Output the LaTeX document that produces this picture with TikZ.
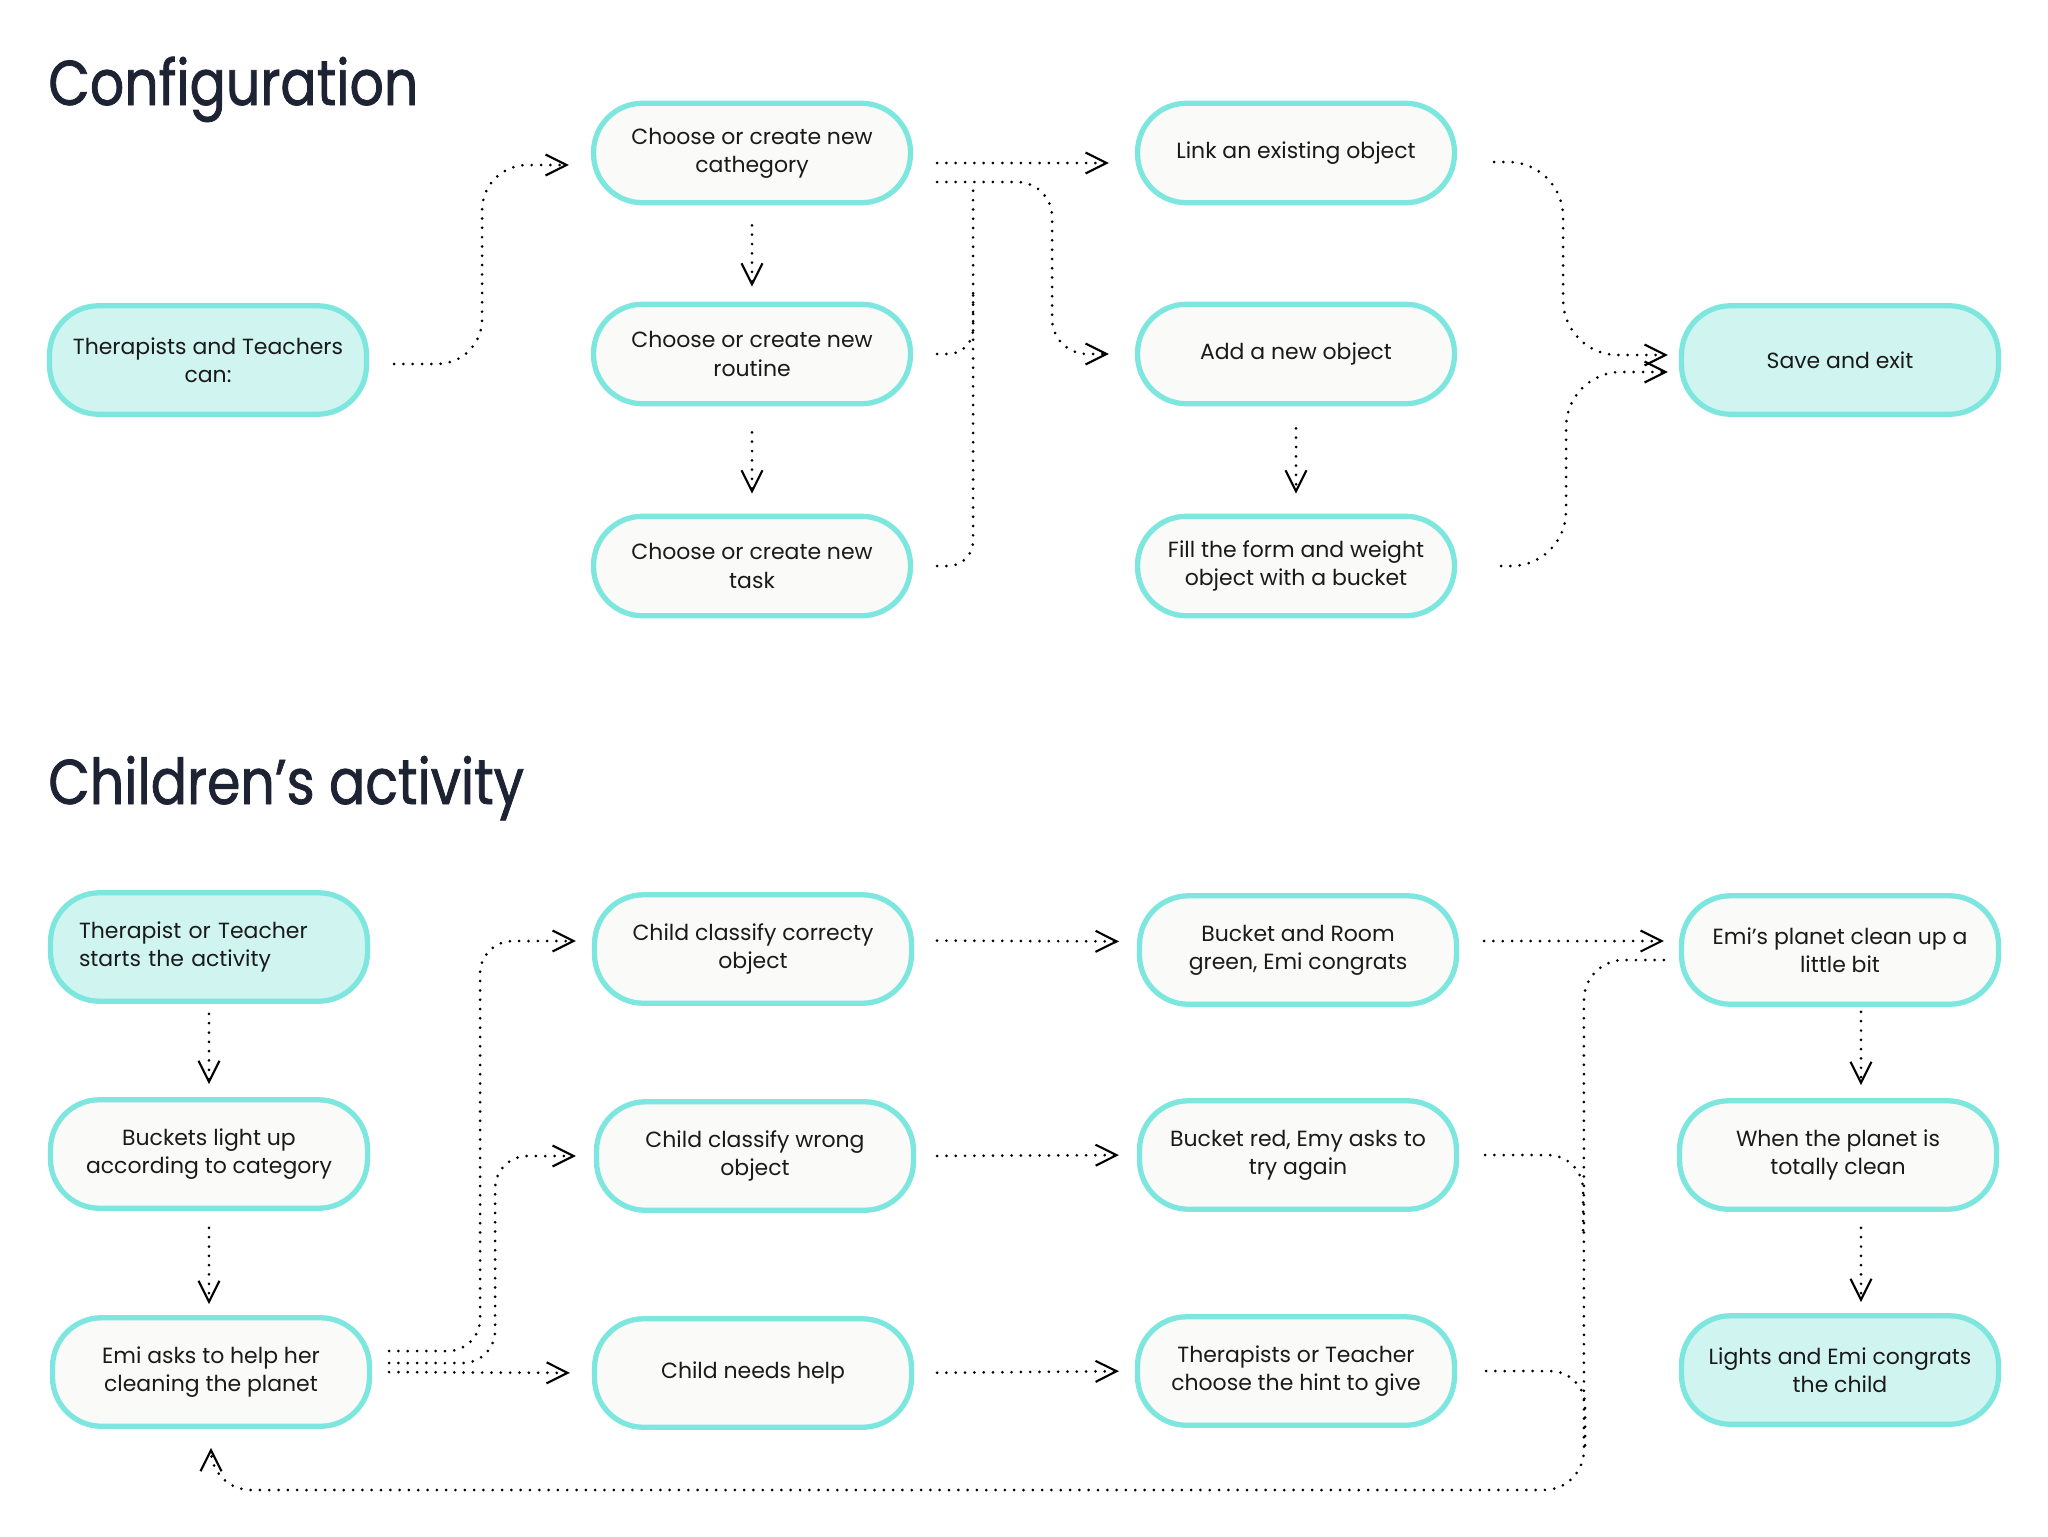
\documentclass[tikz,border=0pt]{standalone}
\usepackage{fontspec}
\setmainfont{Poppins}
\newfontfamily\titlefont{Poppins}[FakeStretch=0.85,FakeBold=1.2]
\usetikzlibrary{arrows.meta}

\definecolor{boxline}{RGB}{125,230,222}
\definecolor{boxfill}{RGB}{250,250,248}
\definecolor{keyfill}{RGB}{208,245,241}
\definecolor{titleink}{RGB}{29,35,51}
\definecolor{textink}{RGB}{26,26,26}

\begin{document}
\begin{tikzpicture}[x=0.02cm,y=-0.02cm,
  box/.style={draw=boxline,fill=boxfill,line width=3pt,rounded corners=0.98cm,
    minimum width=6.34cm,minimum height=2.17cm,inner sep=0pt,align=center,
    text=textink,font=\fontsize{12.5}{16}\selectfont},
  keybox/.style={box,fill=keyfill},
  title/.style={inner sep=0pt,anchor=base west,text=titleink,
    font=\titlefont\fontsize{36}{40}\selectfont},
  dots/.style={line width=1.7pt,line cap=round,dash pattern=on 0pt off 5.3pt},
  flow/.style={dots,-{Straight Barb[length=0.42cm,width=0.42cm,line width=1.2pt]}}]

\fill[white] (0,0) rectangle (2048,1536) ;
\useasboundingbox (0,0) rectangle (2048,1536) ;

\node[title] (t_config) at (48,105) {Configuration} ;
\node[title] (t_activity) at (48,804) {Children’s activity} ;

\node[keybox] (cfg_team) at (208,360) {Therapists and Teachers\\can:} ;
\node[keybox] (cfg_save) at (1840,360) {Save and exit} ;

\begin{scope}[box/.append style={minimum height=1.99cm}]

\node[box] (cfg_cat) at (752,153) {Choose or create new\\cathegory} ;
\node[box] (cfg_routine) at (752,354) {Choose or create new\\routine} ;
\node[box] (cfg_task) at (752,566) {Choose or create new\\task} ;

\node[box] (cfg_link) at (1296,153) {Link an existing object} ;
\node[box] (cfg_add) at (1296,354) {Add a new object} ;
\node[box] (cfg_form) at (1296,566) {Fill the form and weight\\object with a bucket} ;

\end{scope}

\draw[flow,shorten <=0.5cm,shorten >=0.44cm,rounded corners=0.9cm] ([yshift=-0.08cm]cfg_team.east) -- ++(113,0) |- ([yshift=-0.24cm]cfg_cat.west) ;
\draw[flow,shorten <=0.4cm,shorten >=0.3cm] (cfg_cat.south) -- (cfg_routine.north) ;
\draw[flow,shorten <=0.52cm,shorten >=0.4cm] (cfg_routine.south) -- (cfg_task.north) ;

\draw[flow,shorten <=0.48cm,shorten >=0.52cm] ([yshift=-0.2cm]cfg_cat.east) -- ([yshift=-0.2cm]cfg_link.west) ;
\draw[flow,shorten <=0.48cm,shorten >=0.52cm,rounded corners=0.7cm] ([yshift=-0.58cm]cfg_cat.east) -- ++(139,0) |- (cfg_add.west) ;
\draw[dots,shorten <=0.48cm,rounded corners=0.5cm] (cfg_routine.east) -- ++(60,0) -- ++(0,-60) ;
\draw[dots,shorten <=0.48cm,rounded corners=0.5cm] (cfg_task.east) -- ++(60,0) -- ++(0,-384) ;
\draw[flow,shorten <=0.44cm,shorten >=0.4cm] (cfg_add.south) -- (cfg_form.north) ;

\draw[flow,shorten <=0.74cm,shorten >=0.22cm,rounded corners=1.1cm] ([yshift=-0.18cm]cfg_link.east) -- ++(106,0) |- ([yshift=0.1cm]cfg_save.west) ;
\draw[flow,shorten <=0.88cm,shorten >=0.22cm,rounded corners=1.1cm] (cfg_form.east) -- ++(109,0) |- ([yshift=-0.24cm]cfg_save.west) ;

\node[keybox,align=left,text width=5.2cm] (act_start) at (209,947) {Therapist or Teacher\\starts the activity} ;
\node[box] (act_light) at (209,1154) {Buckets light up\\according to category} ;
\node[box] (act_emi) at (211,1372) {Emi asks to help her\\cleaning the planet} ;

\node[box] (act_right) at (753,949) {Child classify correcty\\object} ;
\node[box] (act_wrong) at (755,1156) {Child classify wrong\\object} ;
\node[box] (act_help) at (753,1373) {Child needs help} ;

\node[box] (act_green) at (1298,950) {Bucket and Room\\green, Emi congrats} ;
\node[box] (act_red) at (1298,1155) {Bucket red, Emy asks to\\try again} ;
\node[box] (act_hint) at (1296,1371) {Therapists or Teacher\\choose the hint to give} ;

\node[box] (act_planet) at (1840,950) {Emi’s planet clean up a\\little bit} ;
\node[box] (act_clean) at (1838,1155) {When the planet is\\totally clean} ;
\node[keybox] (act_end) at (1840,1370) {Lights and Emi congrats\\the child} ;

\draw[flow,shorten <=0.2cm,shorten >=0.26cm] (act_start.south) -- (act_start.south |- act_light.north) ;
\draw[flow,shorten <=0.34cm,shorten >=0.22cm] (act_light.south) -- (act_light.south |- act_emi.north) ;

\draw[flow,shorten <=0.34cm,shorten >=0.32cm,rounded corners=0.65cm] ([yshift=0.42cm]act_emi.east) -- ++(108,0) |- ([yshift=0.16cm]act_right.west) ;
\draw[flow,shorten <=0.34cm,shorten >=0.36cm,rounded corners=0.65cm] ([yshift=0.18cm]act_emi.east) -- ++(123,0) |- (act_wrong.west) ;
\draw[flow,shorten <=0.34cm,shorten >=0.44cm] (act_emi.east) -- (act_help.west) ;

\draw[flow,shorten <=0.46cm,shorten >=0.36cm] ([yshift=0.17cm]act_right.east) -- ([yshift=0.17cm]act_green.west) ;
\draw[flow,shorten <=0.42cm,shorten >=0.36cm] (act_wrong.east) -- (act_red.west) ;
\draw[flow,shorten <=0.46cm,shorten >=0.32cm] (act_help.east) -- (act_hint.west) ;

\draw[flow,shorten <=0.5cm,shorten >=0.3cm] ([yshift=0.18cm]act_green.east) -- ([yshift=0.18cm]act_planet.west) ;
\draw[flow,shorten <=0.3cm,shorten >=0.38cm,rounded corners=0.8cm] ([yshift=-0.2cm]act_planet.west) -- ++(-95,0) -- ++(0,530) -| (act_emi.south) ;
\draw[dots,shorten <=0.52cm,rounded corners=0.7cm] (act_red.east) -- ++(124,0) -- ++(0,80) ;
\draw[dots,shorten <=0.58cm,rounded corners=0.7cm] (act_hint.east) -- ++(128,0) -- ++(0,80) ;

\draw[flow,shorten <=0.1cm,shorten >=0.26cm] ([xshift=0.42cm]act_planet.south) -- ([xshift=0.42cm]act_planet.south |- act_clean.north) ;
\draw[flow,shorten <=0.32cm,shorten >=0.22cm] ([xshift=0.46cm]act_clean.south) -- ([xshift=0.46cm]act_clean.south |- act_end.north) ;

\end{tikzpicture}
\end{document}
